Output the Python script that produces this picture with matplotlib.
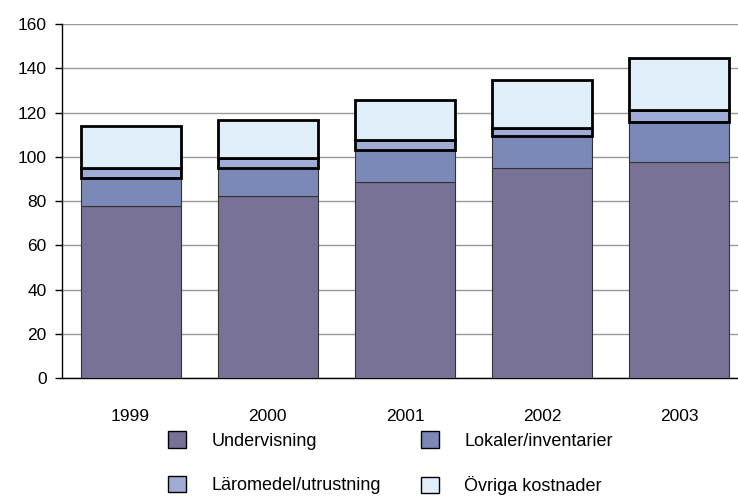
import numpy as np
import matplotlib.pyplot as plt
from matplotlib.patches import Patch

plt.rcParams['font.family'] = ['Liberation Sans', 'DejaVu Sans']

years = ['1999', '2000', '2001', '2002', '2003']
undervisning = [77.7, 82.3, 88.6, 94.9, 97.6]
lokaler = [12.7, 12.6, 14.4, 14.5, 18.1]
laromedel = [4.5, 4.5, 4.6, 3.6, 5.4]
ovriga = [19.0, 17.2, 18.0, 21.7, 23.5]

fig = plt.figure(figsize=(7.38, 4.97), dpi=100)
ax = fig.add_axes([0.084, 0.2394, 0.9295, 0.7123])

x = np.arange(len(years))
w = 0.73
b1 = np.array(undervisning)
b2 = b1 + lokaler
b3 = b2 + laromedel

ax.bar(x, undervisning, w, color='#787296', edgecolor='#333333', linewidth=0.8, zorder=3)
ax.bar(x, lokaler, w, bottom=b1, color='#7a89b8', edgecolor='#333333', linewidth=0.8, zorder=3)
ax.bar(x, laromedel, w, bottom=b2, color='#a0acd6', edgecolor='black', linewidth=2, zorder=4)
ax.bar(x, ovriga, w, bottom=b3, color='#e0eef9', edgecolor='black', linewidth=2, zorder=4)

ax.set_xlim(-0.5, 4.5)
ax.set_ylim(0, 160)
ax.set_yticks(range(0, 161, 20))
ax.yaxis.grid(True, color='#999999', linewidth=1)
ax.set_axisbelow(True)
ax.set_xticks(x)
ax.set_xticklabels(years)
ax.tick_params(axis='x', length=0, pad=22, labelsize=12.5)
ax.tick_params(axis='y', direction='out', length=5, labelsize=12.5, width=1, pad=6)
for s in ['top', 'right']:
    ax.spines[s].set_visible(False)
ax.spines['left'].set_linewidth(1)
ax.spines['bottom'].set_linewidth(1)

# matplotlib fills legend columns first, so order for row-wise reading
handles = [Patch(facecolor='#787296', edgecolor='black', label='Undervisning'),
           Patch(facecolor='#a0acd6', edgecolor='black', label='Läromedel/utrustning'),
           Patch(facecolor='#7a89b8', edgecolor='black', label='Lokaler/inventarier'),
           Patch(facecolor='#e0eef9', edgecolor='black', label='Övriga kostnader')]
fig.legend(handles=handles, ncol=2, loc='upper left', bbox_to_anchor=(0.228, 0.132),
           frameon=False, fontsize=13, handlelength=1.0, handleheight=1.0,
           handletextpad=1.4, columnspacing=2.2, labelspacing=1.45,
           borderaxespad=0, borderpad=0,
           bbox_transform=fig.transFigure)

fig.savefig('out.png', dpi=100)
